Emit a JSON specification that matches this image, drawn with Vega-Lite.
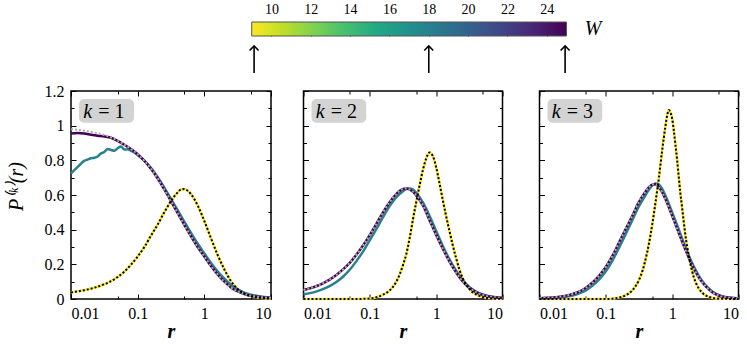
{
  "$schema": "https://vega.github.io/schema/vega-lite/v6.json",
  "background": "white",
  "padding": {"left": 5, "top": 2, "right": 0, "bottom": 0},
  "autosize": {"type": "pad"},
  "config": {
    "font": "Liberation Serif",
    "view": {"stroke": "black", "strokeWidth": 1.5},
    "axis": {"labelFont": "Liberation Serif", "labelFontSize": 16, "labelColor": "black", "titleFont": "Liberation Serif", "titleColor": "black", "titleFontWeight": "normal", "tickColor": "black", "tickWidth": 1, "domain": false, "grid": false},
    "text": {"font": "Liberation Serif", "color": "black"}
  },
  "datasets": {
    "curves": [
      {"k":1,"W":9,"r":0.01,"P":0.038},{"k":1,"W":9,"r":0.0126,"P":0.044},{"k":1,"W":9,"r":0.0158,"P":0.051},{"k":1,"W":9,"r":0.02,"P":0.06},{"k":1,"W":9,"r":0.0251,"P":0.071},{"k":1,"W":9,"r":0.0316,"P":0.085},{"k":1,"W":9,"r":0.0398,"P":0.103},{"k":1,"W":9,"r":0.0501,"P":0.127},{"k":1,"W":9,"r":0.0631,"P":0.158},{"k":1,"W":9,"r":0.0794,"P":0.198},{"k":1,"W":9,"r":0.1,"P":0.245},{"k":1,"W":9,"r":0.126,"P":0.3},{"k":1,"W":9,"r":0.158,"P":0.365},{"k":1,"W":9,"r":0.2,"P":0.43},{"k":1,"W":9,"r":0.251,"P":0.5},{"k":1,"W":9,"r":0.316,"P":0.565},{"k":1,"W":9,"r":0.398,"P":0.615},{"k":1,"W":9,"r":0.447,"P":0.632},{"k":1,"W":9,"r":0.501,"P":0.634},{"k":1,"W":9,"r":0.562,"P":0.625},{"k":1,"W":9,"r":0.631,"P":0.605},{"k":1,"W":9,"r":0.794,"P":0.54},{"k":1,"W":9,"r":1,"P":0.45},{"k":1,"W":9,"r":1.26,"P":0.35},{"k":1,"W":9,"r":1.58,"P":0.255},{"k":1,"W":9,"r":2,"P":0.17},{"k":1,"W":9,"r":2.51,"P":0.103},{"k":1,"W":9,"r":3.16,"P":0.058},{"k":1,"W":9,"r":3.98,"P":0.031},{"k":1,"W":9,"r":5.01,"P":0.016},{"k":1,"W":9,"r":6.31,"P":0.008},{"k":1,"W":9,"r":7.94,"P":0.004},{"k":1,"W":9,"r":10,"P":0.002},
      {"k":1,"W":18,"r":0.01,"P":0.725},{"k":1,"W":18,"r":0.0126,"P":0.762},{"k":1,"W":18,"r":0.0158,"P":0.797},{"k":1,"W":18,"r":0.0178,"P":0.805},{"k":1,"W":18,"r":0.02,"P":0.812},{"k":1,"W":18,"r":0.0224,"P":0.815},{"k":1,"W":18,"r":0.0251,"P":0.822},{"k":1,"W":18,"r":0.0282,"P":0.84},{"k":1,"W":18,"r":0.0316,"P":0.848},{"k":1,"W":18,"r":0.0355,"P":0.866},{"k":1,"W":18,"r":0.0398,"P":0.86},{"k":1,"W":18,"r":0.0447,"P":0.855},{"k":1,"W":18,"r":0.0501,"P":0.87},{"k":1,"W":18,"r":0.0562,"P":0.88},{"k":1,"W":18,"r":0.0631,"P":0.862},{"k":1,"W":18,"r":0.0708,"P":0.864},{"k":1,"W":18,"r":0.0794,"P":0.855},{"k":1,"W":18,"r":0.0891,"P":0.845},{"k":1,"W":18,"r":0.1,"P":0.83},{"k":1,"W":18,"r":0.126,"P":0.798},{"k":1,"W":18,"r":0.158,"P":0.757},{"k":1,"W":18,"r":0.2,"P":0.703},{"k":1,"W":18,"r":0.251,"P":0.643},{"k":1,"W":18,"r":0.316,"P":0.578},{"k":1,"W":18,"r":0.398,"P":0.512},{"k":1,"W":18,"r":0.501,"P":0.447},{"k":1,"W":18,"r":0.631,"P":0.382},{"k":1,"W":18,"r":0.794,"P":0.32},{"k":1,"W":18,"r":1,"P":0.263},{"k":1,"W":18,"r":1.26,"P":0.208},{"k":1,"W":18,"r":1.58,"P":0.16},{"k":1,"W":18,"r":2,"P":0.117},{"k":1,"W":18,"r":2.51,"P":0.082},{"k":1,"W":18,"r":3.16,"P":0.056},{"k":1,"W":18,"r":3.98,"P":0.037},{"k":1,"W":18,"r":5.01,"P":0.025},{"k":1,"W":18,"r":6.31,"P":0.017},{"k":1,"W":18,"r":7.94,"P":0.012},{"k":1,"W":18,"r":10,"P":0.009},
      {"k":1,"W":25,"r":0.01,"P":0.955},{"k":1,"W":25,"r":0.0126,"P":0.958},{"k":1,"W":25,"r":0.0158,"P":0.955},{"k":1,"W":25,"r":0.02,"P":0.948},{"k":1,"W":25,"r":0.0251,"P":0.942},{"k":1,"W":25,"r":0.0316,"P":0.937},{"k":1,"W":25,"r":0.0398,"P":0.93},{"k":1,"W":25,"r":0.0501,"P":0.912},{"k":1,"W":25,"r":0.0631,"P":0.89},{"k":1,"W":25,"r":0.0794,"P":0.865},{"k":1,"W":25,"r":0.1,"P":0.835},{"k":1,"W":25,"r":0.126,"P":0.797},{"k":1,"W":25,"r":0.158,"P":0.752},{"k":1,"W":25,"r":0.2,"P":0.695},{"k":1,"W":25,"r":0.251,"P":0.632},{"k":1,"W":25,"r":0.316,"P":0.565},{"k":1,"W":25,"r":0.398,"P":0.495},{"k":1,"W":25,"r":0.501,"P":0.428},{"k":1,"W":25,"r":0.631,"P":0.362},{"k":1,"W":25,"r":0.794,"P":0.3},{"k":1,"W":25,"r":1,"P":0.245},{"k":1,"W":25,"r":1.26,"P":0.19},{"k":1,"W":25,"r":1.58,"P":0.142},{"k":1,"W":25,"r":2,"P":0.1},{"k":1,"W":25,"r":2.51,"P":0.067},{"k":1,"W":25,"r":3.16,"P":0.044},{"k":1,"W":25,"r":3.98,"P":0.029},{"k":1,"W":25,"r":5.01,"P":0.019},{"k":1,"W":25,"r":6.31,"P":0.013},{"k":1,"W":25,"r":7.94,"P":0.009},{"k":1,"W":25,"r":10,"P":0.006},
      {"k":2,"W":9,"r":0.01,"P":0},{"k":2,"W":9,"r":0.02,"P":0},{"k":2,"W":9,"r":0.0398,"P":0},{"k":2,"W":9,"r":0.0631,"P":0},{"k":2,"W":9,"r":0.0794,"P":0.001},{"k":2,"W":9,"r":0.1,"P":0.003},{"k":2,"W":9,"r":0.126,"P":0.01},{"k":2,"W":9,"r":0.158,"P":0.025},{"k":2,"W":9,"r":0.2,"P":0.05},{"k":2,"W":9,"r":0.251,"P":0.1},{"k":2,"W":9,"r":0.316,"P":0.195},{"k":2,"W":9,"r":0.355,"P":0.26},{"k":2,"W":9,"r":0.398,"P":0.35},{"k":2,"W":9,"r":0.447,"P":0.46},{"k":2,"W":9,"r":0.501,"P":0.56},{"k":2,"W":9,"r":0.562,"P":0.655},{"k":2,"W":9,"r":0.631,"P":0.745},{"k":2,"W":9,"r":0.708,"P":0.81},{"k":2,"W":9,"r":0.794,"P":0.845},{"k":2,"W":9,"r":0.891,"P":0.825},{"k":2,"W":9,"r":1,"P":0.76},{"k":2,"W":9,"r":1.12,"P":0.67},{"k":2,"W":9,"r":1.26,"P":0.57},{"k":2,"W":9,"r":1.41,"P":0.48},{"k":2,"W":9,"r":1.58,"P":0.395},{"k":2,"W":9,"r":1.78,"P":0.31},{"k":2,"W":9,"r":2,"P":0.235},{"k":2,"W":9,"r":2.24,"P":0.17},{"k":2,"W":9,"r":2.51,"P":0.12},{"k":2,"W":9,"r":3.16,"P":0.058},{"k":2,"W":9,"r":3.98,"P":0.027},{"k":2,"W":9,"r":5.01,"P":0.012},{"k":2,"W":9,"r":6.31,"P":0.005},{"k":2,"W":9,"r":7.94,"P":0.002},{"k":2,"W":9,"r":10,"P":0.001},
      {"k":2,"W":18,"r":0.01,"P":0.027},{"k":2,"W":18,"r":0.0126,"P":0.034},{"k":2,"W":18,"r":0.0158,"P":0.044},{"k":2,"W":18,"r":0.02,"P":0.058},{"k":2,"W":18,"r":0.0251,"P":0.076},{"k":2,"W":18,"r":0.0316,"P":0.1},{"k":2,"W":18,"r":0.0398,"P":0.13},{"k":2,"W":18,"r":0.0501,"P":0.17},{"k":2,"W":18,"r":0.0631,"P":0.22},{"k":2,"W":18,"r":0.0794,"P":0.275},{"k":2,"W":18,"r":0.1,"P":0.34},{"k":2,"W":18,"r":0.126,"P":0.405},{"k":2,"W":18,"r":0.158,"P":0.472},{"k":2,"W":18,"r":0.2,"P":0.537},{"k":2,"W":18,"r":0.251,"P":0.587},{"k":2,"W":18,"r":0.316,"P":0.622},{"k":2,"W":18,"r":0.355,"P":0.635},{"k":2,"W":18,"r":0.398,"P":0.638},{"k":2,"W":18,"r":0.447,"P":0.631},{"k":2,"W":18,"r":0.501,"P":0.612},{"k":2,"W":18,"r":0.631,"P":0.557},{"k":2,"W":18,"r":0.794,"P":0.48},{"k":2,"W":18,"r":1,"P":0.392},{"k":2,"W":18,"r":1.26,"P":0.306},{"k":2,"W":18,"r":1.58,"P":0.23},{"k":2,"W":18,"r":2,"P":0.163},{"k":2,"W":18,"r":2.51,"P":0.109},{"k":2,"W":18,"r":3.16,"P":0.07},{"k":2,"W":18,"r":3.98,"P":0.043},{"k":2,"W":18,"r":5.01,"P":0.026},{"k":2,"W":18,"r":6.31,"P":0.016},{"k":2,"W":18,"r":7.94,"P":0.01},{"k":2,"W":18,"r":10,"P":0.007},
      {"k":2,"W":25,"r":0.01,"P":0.052},{"k":2,"W":25,"r":0.0126,"P":0.062},{"k":2,"W":25,"r":0.0158,"P":0.075},{"k":2,"W":25,"r":0.02,"P":0.092},{"k":2,"W":25,"r":0.0251,"P":0.113},{"k":2,"W":25,"r":0.0316,"P":0.14},{"k":2,"W":25,"r":0.0398,"P":0.172},{"k":2,"W":25,"r":0.0501,"P":0.21},{"k":2,"W":25,"r":0.0631,"P":0.257},{"k":2,"W":25,"r":0.0794,"P":0.31},{"k":2,"W":25,"r":0.1,"P":0.37},{"k":2,"W":25,"r":0.126,"P":0.435},{"k":2,"W":25,"r":0.158,"P":0.5},{"k":2,"W":25,"r":0.2,"P":0.56},{"k":2,"W":25,"r":0.251,"P":0.607},{"k":2,"W":25,"r":0.316,"P":0.635},{"k":2,"W":25,"r":0.355,"P":0.638},{"k":2,"W":25,"r":0.398,"P":0.632},{"k":2,"W":25,"r":0.501,"P":0.598},{"k":2,"W":25,"r":0.631,"P":0.54},{"k":2,"W":25,"r":0.794,"P":0.455},{"k":2,"W":25,"r":1,"P":0.37},{"k":2,"W":25,"r":1.26,"P":0.29},{"k":2,"W":25,"r":1.58,"P":0.217},{"k":2,"W":25,"r":2,"P":0.153},{"k":2,"W":25,"r":2.51,"P":0.102},{"k":2,"W":25,"r":3.16,"P":0.065},{"k":2,"W":25,"r":3.98,"P":0.04},{"k":2,"W":25,"r":5.01,"P":0.024},{"k":2,"W":25,"r":6.31,"P":0.014},{"k":2,"W":25,"r":7.94,"P":0.009},{"k":2,"W":25,"r":10,"P":0.006},
      {"k":3,"W":9,"r":0.01,"P":0},{"k":3,"W":9,"r":0.0316,"P":0},{"k":3,"W":9,"r":0.1,"P":0},{"k":3,"W":9,"r":0.126,"P":0.002},{"k":3,"W":9,"r":0.158,"P":0.008},{"k":3,"W":9,"r":0.2,"P":0.022},{"k":3,"W":9,"r":0.251,"P":0.05},{"k":3,"W":9,"r":0.282,"P":0.075},{"k":3,"W":9,"r":0.316,"P":0.11},{"k":3,"W":9,"r":0.355,"P":0.16},{"k":3,"W":9,"r":0.398,"P":0.23},{"k":3,"W":9,"r":0.447,"P":0.32},{"k":3,"W":9,"r":0.501,"P":0.43},{"k":3,"W":9,"r":0.562,"P":0.56},{"k":3,"W":9,"r":0.631,"P":0.7},{"k":3,"W":9,"r":0.708,"P":0.86},{"k":3,"W":9,"r":0.794,"P":1.0},{"k":3,"W":9,"r":0.841,"P":1.06},{"k":3,"W":9,"r":0.891,"P":1.09},{"k":3,"W":9,"r":0.944,"P":1.075},{"k":3,"W":9,"r":1,"P":1.04},{"k":3,"W":9,"r":1.06,"P":0.97},{"k":3,"W":9,"r":1.12,"P":0.89},{"k":3,"W":9,"r":1.19,"P":0.8},{"k":3,"W":9,"r":1.26,"P":0.7},{"k":3,"W":9,"r":1.33,"P":0.61},{"k":3,"W":9,"r":1.41,"P":0.53},{"k":3,"W":9,"r":1.5,"P":0.44},{"k":3,"W":9,"r":1.58,"P":0.37},{"k":3,"W":9,"r":1.78,"P":0.25},{"k":3,"W":9,"r":2,"P":0.16},{"k":3,"W":9,"r":2.24,"P":0.1},{"k":3,"W":9,"r":2.51,"P":0.062},{"k":3,"W":9,"r":2.82,"P":0.037},{"k":3,"W":9,"r":3.16,"P":0.022},{"k":3,"W":9,"r":3.98,"P":0.007},{"k":3,"W":9,"r":5.01,"P":0.002},{"k":3,"W":9,"r":6.31,"P":0.001},{"k":3,"W":9,"r":10,"P":0},
      {"k":3,"W":18,"r":0.01,"P":0.003},{"k":3,"W":18,"r":0.0126,"P":0.004},{"k":3,"W":18,"r":0.0158,"P":0.006},{"k":3,"W":18,"r":0.02,"P":0.009},{"k":3,"W":18,"r":0.0251,"P":0.013},{"k":3,"W":18,"r":0.0316,"P":0.02},{"k":3,"W":18,"r":0.0398,"P":0.032},{"k":3,"W":18,"r":0.0501,"P":0.05},{"k":3,"W":18,"r":0.0631,"P":0.077},{"k":3,"W":18,"r":0.0794,"P":0.113},{"k":3,"W":18,"r":0.1,"P":0.16},{"k":3,"W":18,"r":0.126,"P":0.222},{"k":3,"W":18,"r":0.158,"P":0.295},{"k":3,"W":18,"r":0.2,"P":0.375},{"k":3,"W":18,"r":0.251,"P":0.455},{"k":3,"W":18,"r":0.316,"P":0.535},{"k":3,"W":18,"r":0.398,"P":0.6},{"k":3,"W":18,"r":0.447,"P":0.632},{"k":3,"W":18,"r":0.501,"P":0.655},{"k":3,"W":18,"r":0.562,"P":0.667},{"k":3,"W":18,"r":0.631,"P":0.66},{"k":3,"W":18,"r":0.708,"P":0.635},{"k":3,"W":18,"r":0.794,"P":0.595},{"k":3,"W":18,"r":1,"P":0.5},{"k":3,"W":18,"r":1.26,"P":0.4},{"k":3,"W":18,"r":1.58,"P":0.3},{"k":3,"W":18,"r":2,"P":0.207},{"k":3,"W":18,"r":2.51,"P":0.135},{"k":3,"W":18,"r":3.16,"P":0.082},{"k":3,"W":18,"r":3.98,"P":0.045},{"k":3,"W":18,"r":5.01,"P":0.023},{"k":3,"W":18,"r":6.31,"P":0.012},{"k":3,"W":18,"r":7.94,"P":0.007},{"k":3,"W":18,"r":10,"P":0.005},
      {"k":3,"W":25,"r":0.01,"P":0.005},{"k":3,"W":25,"r":0.0126,"P":0.007},{"k":3,"W":25,"r":0.0158,"P":0.009},{"k":3,"W":25,"r":0.02,"P":0.013},{"k":3,"W":25,"r":0.0251,"P":0.019},{"k":3,"W":25,"r":0.0316,"P":0.029},{"k":3,"W":25,"r":0.0398,"P":0.043},{"k":3,"W":25,"r":0.0501,"P":0.065},{"k":3,"W":25,"r":0.0631,"P":0.095},{"k":3,"W":25,"r":0.0794,"P":0.135},{"k":3,"W":25,"r":0.1,"P":0.185},{"k":3,"W":25,"r":0.126,"P":0.25},{"k":3,"W":25,"r":0.158,"P":0.325},{"k":3,"W":25,"r":0.2,"P":0.405},{"k":3,"W":25,"r":0.251,"P":0.48},{"k":3,"W":25,"r":0.316,"P":0.56},{"k":3,"W":25,"r":0.398,"P":0.62},{"k":3,"W":25,"r":0.447,"P":0.645},{"k":3,"W":25,"r":0.501,"P":0.66},{"k":3,"W":25,"r":0.562,"P":0.662},{"k":3,"W":25,"r":0.631,"P":0.645},{"k":3,"W":25,"r":0.708,"P":0.615},{"k":3,"W":25,"r":0.794,"P":0.575},{"k":3,"W":25,"r":1,"P":0.48},{"k":3,"W":25,"r":1.26,"P":0.38},{"k":3,"W":25,"r":1.58,"P":0.285},{"k":3,"W":25,"r":2,"P":0.195},{"k":3,"W":25,"r":2.51,"P":0.125},{"k":3,"W":25,"r":3.16,"P":0.075},{"k":3,"W":25,"r":3.98,"P":0.04},{"k":3,"W":25,"r":5.01,"P":0.02},{"k":3,"W":25,"r":6.31,"P":0.01},{"k":3,"W":25,"r":7.94,"P":0.006},{"k":3,"W":25,"r":10,"P":0.004}
    ],
    "grayfit": [
      {"k":1,"r":0.01,"P":0.98},{"k":1,"r":0.0126,"P":0.976},{"k":1,"r":0.0158,"P":0.971},{"k":1,"r":0.02,"P":0.964},{"k":1,"r":0.0251,"P":0.956},{"k":1,"r":0.0316,"P":0.946},{"k":1,"r":0.0398,"P":0.932},{"k":1,"r":0.0501,"P":0.914},{"k":1,"r":0.0631,"P":0.891},{"k":1,"r":0.0794,"P":0.865},{"k":1,"r":0.1,"P":0.835},{"k":1,"r":0.126,"P":0.797},{"k":1,"r":0.158,"P":0.752},{"k":1,"r":0.2,"P":0.695},{"k":1,"r":0.251,"P":0.632},{"k":1,"r":0.316,"P":0.565},{"k":1,"r":0.398,"P":0.495},{"k":1,"r":0.501,"P":0.428},{"k":1,"r":0.631,"P":0.362},{"k":1,"r":0.794,"P":0.3},{"k":1,"r":1,"P":0.245},{"k":1,"r":1.26,"P":0.19},{"k":1,"r":1.58,"P":0.142},{"k":1,"r":2,"P":0.1},{"k":1,"r":2.51,"P":0.067},{"k":1,"r":3.16,"P":0.044},{"k":1,"r":3.98,"P":0.029},{"k":1,"r":5.01,"P":0.019},{"k":1,"r":6.31,"P":0.013},{"k":1,"r":7.94,"P":0.009},{"k":1,"r":10,"P":0.006},
      {"k":2,"r":0.01,"P":0.052},{"k":2,"r":0.0126,"P":0.062},{"k":2,"r":0.0158,"P":0.075},{"k":2,"r":0.02,"P":0.092},{"k":2,"r":0.0251,"P":0.113},{"k":2,"r":0.0316,"P":0.14},{"k":2,"r":0.0398,"P":0.172},{"k":2,"r":0.0501,"P":0.21},{"k":2,"r":0.0631,"P":0.257},{"k":2,"r":0.0794,"P":0.31},{"k":2,"r":0.1,"P":0.37},{"k":2,"r":0.126,"P":0.435},{"k":2,"r":0.158,"P":0.5},{"k":2,"r":0.2,"P":0.56},{"k":2,"r":0.251,"P":0.607},{"k":2,"r":0.316,"P":0.635},{"k":2,"r":0.355,"P":0.638},{"k":2,"r":0.398,"P":0.632},{"k":2,"r":0.501,"P":0.598},{"k":2,"r":0.631,"P":0.54},{"k":2,"r":0.794,"P":0.455},{"k":2,"r":1,"P":0.37},{"k":2,"r":1.26,"P":0.29},{"k":2,"r":1.58,"P":0.217},{"k":2,"r":2,"P":0.153},{"k":2,"r":2.51,"P":0.102},{"k":2,"r":3.16,"P":0.065},{"k":2,"r":3.98,"P":0.04},{"k":2,"r":5.01,"P":0.024},{"k":2,"r":6.31,"P":0.014},{"k":2,"r":7.94,"P":0.009},{"k":2,"r":10,"P":0.006},
      {"k":3,"r":0.01,"P":0.005},{"k":3,"r":0.0126,"P":0.007},{"k":3,"r":0.0158,"P":0.009},{"k":3,"r":0.02,"P":0.013},{"k":3,"r":0.0251,"P":0.019},{"k":3,"r":0.0316,"P":0.029},{"k":3,"r":0.0398,"P":0.043},{"k":3,"r":0.0501,"P":0.065},{"k":3,"r":0.0631,"P":0.095},{"k":3,"r":0.0794,"P":0.135},{"k":3,"r":0.1,"P":0.185},{"k":3,"r":0.126,"P":0.25},{"k":3,"r":0.158,"P":0.325},{"k":3,"r":0.2,"P":0.405},{"k":3,"r":0.251,"P":0.48},{"k":3,"r":0.316,"P":0.56},{"k":3,"r":0.398,"P":0.62},{"k":3,"r":0.447,"P":0.645},{"k":3,"r":0.501,"P":0.66},{"k":3,"r":0.562,"P":0.662},{"k":3,"r":0.631,"P":0.645},{"k":3,"r":0.708,"P":0.615},{"k":3,"r":0.794,"P":0.575},{"k":3,"r":1,"P":0.48},{"k":3,"r":1.26,"P":0.38},{"k":3,"r":1.58,"P":0.285},{"k":3,"r":2,"P":0.195},{"k":3,"r":2.51,"P":0.125},{"k":3,"r":3.16,"P":0.075},{"k":3,"r":3.98,"P":0.04},{"k":3,"r":5.01,"P":0.02},{"k":3,"r":6.31,"P":0.01},{"k":3,"r":7.94,"P":0.006},{"k":3,"r":10,"P":0.004}
    ],
    "arrows": [{"W": 9.12}, {"W": 18}, {"W": 24.93}]
  },
  "bounds": "flush",
  "spacing": 10,
  "vconcat": [
    {
      "width": 668, "height": 14,
      "view": {"stroke": null},
      "resolve": {"axis": {"x": "independent"}},
      "layer": [
        {
          "data": {"values": [{}]},
          "mark": {"type": "rect", "stroke": "#555555", "strokeWidth": 1, "fill": {"gradient": "linear", "x1": 0, "y1": 0, "x2": 1, "y2": 0, "stops": [{"offset": 0, "color": "#fde725"}, {"offset": 0.1, "color": "#bddf26"}, {"offset": 0.2, "color": "#7ad151"}, {"offset": 0.3, "color": "#44bf70"}, {"offset": 0.4, "color": "#22a884"}, {"offset": 0.5, "color": "#21918c"}, {"offset": 0.6, "color": "#2a788e"}, {"offset": 0.7, "color": "#355f8d"}, {"offset": 0.8, "color": "#414487"}, {"offset": 0.9, "color": "#482475"}, {"offset": 1, "color": "#440154"}]}},
          "encoding": {
            "x": {"datum": 9, "type": "quantitative", "scale": {"domain": [-0.187, 33.77], "nice": false, "zero": false}, "axis": {"orient": "top", "values": [10, 12, 14, 16, 18, 20, 22, 24], "tickSize": -4, "tickColor": "#333333", "labelPadding": 10, "labelFontSize": 14, "title": null}},
            "x2": {"datum": 25},
            "y": {"datum": 0, "type": "quantitative", "scale": {"domain": [0, 1], "nice": false}, "axis": null},
            "y2": {"datum": 1}
          }
        },
        {
          "data": {"values": [{}]},
          "mark": {"type": "text", "text": "W", "fontStyle": "italic", "fontSize": 20, "align": "center", "baseline": "middle"},
          "encoding": {
            "x": {"datum": 26.35, "type": "quantitative", "axis": {"orient": "bottom", "values": [10, 12, 14, 16, 18, 20, 22, 24], "tickSize": -4, "tickColor": "#333333", "labels": false, "title": null}},
            "y": {"datum": 0.5, "type": "quantitative", "axis": null}
          }
        }
      ]
    },
    {
      "width": 668, "height": 35,
      "view": {"stroke": null},
      "data": {"name": "arrows"},
      "layer": [
        {
          "mark": {"type": "rule", "strokeWidth": 1.6, "color": "black"},
          "encoding": {
            "x": {"field": "W", "type": "quantitative", "scale": {"domain": [-0.187, 33.77], "nice": false, "zero": false}, "axis": null},
            "y": {"datum": 0.2286, "type": "quantitative", "scale": {"domain": [0, 1], "nice": false}, "axis": null},
            "y2": {"datum": 1}
          }
        },
        {
          "mark": {"type": "point", "shape": "M-1,1L0,0L1,1", "filled": false, "size": 81, "strokeWidth": 1.6, "color": "black", "opacity": 1},
          "encoding": {
            "x": {"field": "W", "type": "quantitative"},
            "y": {"datum": 1, "type": "quantitative"}
          }
        }
      ]
    },
    {
      "bounds": "flush",
      "spacing": 32.5,
      "hconcat": [
        {
          "width": 200, "height": 208,
          "resolve": {"axis": {"x": "independent", "y": "independent"}},
          "layer": [
            {
              "data": {"name": "curves"},
              "transform": [{"filter": "datum.k == 1"}],
              "mark": {"type": "line", "strokeWidth": 2.5, "interpolate": "monotone"},
              "encoding": {
                "x": {"field": "r", "type": "quantitative", "scale": {"type": "log", "domain": [0.01, 10], "nice": false}, "axis": {"orient": "bottom", "values": [0.01, 0.1, 1, 10], "format": "~g", "tickSize": -5, "labelPadding": 11, "title": "r", "titleFontStyle": "italic", "titleFontWeight": "bold", "titleFontSize": 20, "titlePadding": 0}},
                "y": {"field": "P", "type": "quantitative", "scale": {"domain": [0, 1.2], "nice": false}, "axis": {"orient": "left", "values": [0, 0.2, 0.4, 0.6, 0.8, 1, 1.2], "format": "~g", "tickSize": -5, "labelPadding": 12, "title": "P⁽ᵏ⁾(r)", "titleFontStyle": "italic", "titleFontSize": 20, "titlePadding": 18, "titleY": 95}},
                "color": {"field": "W", "type": "quantitative", "scale": {"scheme": "viridis", "reverse": true, "domain": [9, 25]}, "legend": null},
                "detail": {"field": "W", "type": "nominal"}
              }
            },
            {
              "data": {"name": "grayfit"},
              "transform": [{"filter": "datum.k == 1"}],
              "mark": {"type": "line", "strokeWidth": 2, "strokeDash": [2, 2], "color": "#aaaaaa", "interpolate": "monotone"},
              "encoding": {
                "x": {"field": "r", "type": "quantitative", "axis": {"orient": "top", "values": [0.01, 0.1, 1, 10], "tickSize": -5, "labels": false, "title": null}},
                "y": {"field": "P", "type": "quantitative", "axis": {"orient": "right", "values": [0, 0.2, 0.4, 0.6, 0.8, 1, 1.2], "tickSize": -5, "labels": false, "title": null}}
              }
            },
            {
              "data": {"name": "curves"},
              "transform": [{"filter": "datum.k == 1 && datum.W == 9"}],
              "mark": {"type": "line", "strokeWidth": 2, "strokeDash": [2, 2], "color": "black", "interpolate": "monotone"},
              "encoding": {
                "x": {"field": "r", "type": "quantitative", "axis": {"orient": "bottom", "values": [0.05, 0.5, 5], "tickSize": -3, "labels": false, "title": null}},
                "y": {"field": "P", "type": "quantitative", "axis": {"orient": "left", "values": [0.1, 0.3, 0.5, 0.7, 0.9, 1.1], "tickSize": -3, "labels": false, "title": null}}
              }
            },
            {
              "data": {"values": [{}]},
              "mark": {"type": "rect", "fill": "#d3d3d3", "cornerRadius": 5},
              "encoding": {
                "x": {"datum": 0.0132, "type": "quantitative", "axis": {"orient": "top", "values": [0.05, 0.5, 5], "tickSize": -3, "labels": false, "title": null}},
                "x2": {"datum": 0.0881},
                "y": {"datum": 1.154, "type": "quantitative", "axis": {"orient": "right", "values": [0.1, 0.3, 0.5, 0.7, 0.9, 1.1], "tickSize": -3, "labels": false, "title": null}},
                "y2": {"datum": 1.017}
              }
            },
            {
              "data": {"values": [{}]},
              "mark": {"type": "text", "text": "k", "fontStyle": "italic", "fontSize": 20, "align": "center", "baseline": "alphabetic"},
              "encoding": {
                "x": {"datum": 0.0178, "type": "quantitative", "axis": null},
                "y": {"datum": 1.043, "type": "quantitative", "axis": null}
              }
            },
            {
              "data": {"values": [{}]},
              "mark": {"type": "text", "text": "= 1", "fontSize": 20, "align": "left", "baseline": "alphabetic"},
              "encoding": {
                "x": {"datum": 0.0257, "type": "quantitative", "axis": null},
                "y": {"datum": 1.043, "type": "quantitative", "axis": null}
              }
            }
          ]
        },
        {
          "bounds": "flush",
          "spacing": 37,
          "hconcat": [
            {
              "width": 199, "height": 208,
              "resolve": {"axis": {"x": "independent", "y": "independent"}},
              "layer": [
                {
                  "data": {"name": "curves"},
                  "transform": [{"filter": "datum.k == 2"}],
                  "mark": {"type": "line", "strokeWidth": 2.5, "interpolate": "monotone"},
                  "encoding": {
                    "x": {"field": "r", "type": "quantitative", "scale": {"type": "log", "domain": [0.01, 10], "nice": false}, "axis": {"orient": "bottom", "values": [0.01, 0.1, 1, 10], "format": "~g", "tickSize": -5, "labelPadding": 11, "title": "r", "titleFontStyle": "italic", "titleFontWeight": "bold", "titleFontSize": 20, "titlePadding": 0}},
                    "y": {"field": "P", "type": "quantitative", "scale": {"domain": [0, 1.2], "nice": false}, "axis": {"orient": "left", "values": [0, 0.2, 0.4, 0.6, 0.8, 1, 1.2], "tickSize": -5, "labels": false, "title": null}},
                    "color": {"field": "W", "type": "quantitative", "scale": {"scheme": "viridis", "reverse": true, "domain": [9, 25]}, "legend": null},
                    "detail": {"field": "W", "type": "nominal"}
                  }
                },
                {
                  "data": {"name": "grayfit"},
                  "transform": [{"filter": "datum.k == 2"}],
                  "mark": {"type": "line", "strokeWidth": 2, "strokeDash": [2, 2], "color": "#aaaaaa", "interpolate": "monotone"},
                  "encoding": {
                    "x": {"field": "r", "type": "quantitative", "axis": {"orient": "top", "values": [0.01, 0.1, 1, 10], "tickSize": -5, "labels": false, "title": null}},
                    "y": {"field": "P", "type": "quantitative", "axis": {"orient": "right", "values": [0, 0.2, 0.4, 0.6, 0.8, 1, 1.2], "tickSize": -5, "labels": false, "title": null}}
                  }
                },
                {
                  "data": {"name": "curves"},
                  "transform": [{"filter": "datum.k == 2 && datum.W == 9"}],
                  "mark": {"type": "line", "strokeWidth": 2, "strokeDash": [2, 2], "color": "black", "interpolate": "monotone"},
                  "encoding": {
                    "x": {"field": "r", "type": "quantitative", "axis": {"orient": "bottom", "values": [0.05, 0.5, 5], "tickSize": -3, "labels": false, "title": null}},
                    "y": {"field": "P", "type": "quantitative", "axis": {"orient": "left", "values": [0.1, 0.3, 0.5, 0.7, 0.9, 1.1], "tickSize": -3, "labels": false, "title": null}}
                  }
                },
                {
                  "data": {"values": [{}]},
                  "mark": {"type": "rect", "fill": "#d3d3d3", "cornerRadius": 5},
                  "encoding": {
                    "x": {"datum": 0.0132, "type": "quantitative", "axis": {"orient": "top", "values": [0.05, 0.5, 5], "tickSize": -3, "labels": false, "title": null}},
                    "x2": {"datum": 0.0881},
                    "y": {"datum": 1.154, "type": "quantitative", "axis": {"orient": "right", "values": [0.1, 0.3, 0.5, 0.7, 0.9, 1.1], "tickSize": -3, "labels": false, "title": null}},
                    "y2": {"datum": 1.017}
                  }
                },
                {
                  "data": {"values": [{}]},
                  "mark": {"type": "text", "text": "k", "fontStyle": "italic", "fontSize": 20, "align": "center", "baseline": "alphabetic"},
                  "encoding": {
                    "x": {"datum": 0.0178, "type": "quantitative", "axis": null},
                    "y": {"datum": 1.043, "type": "quantitative", "axis": null}
                  }
                },
                {
                  "data": {"values": [{}]},
                  "mark": {"type": "text", "text": "= 2", "fontSize": 20, "align": "left", "baseline": "alphabetic"},
                  "encoding": {
                    "x": {"datum": 0.0257, "type": "quantitative", "axis": null},
                    "y": {"datum": 1.043, "type": "quantitative", "axis": null}
                  }
                }
              ]
            },
            {
              "width": 199, "height": 208,
              "resolve": {"axis": {"x": "independent", "y": "independent"}},
              "layer": [
                {
                  "data": {"name": "curves"},
                  "transform": [{"filter": "datum.k == 3"}],
                  "mark": {"type": "line", "strokeWidth": 2.5, "interpolate": "monotone"},
                  "encoding": {
                    "x": {"field": "r", "type": "quantitative", "scale": {"type": "log", "domain": [0.01, 10], "nice": false}, "axis": {"orient": "bottom", "values": [0.01, 0.1, 1, 10], "format": "~g", "tickSize": -5, "labelPadding": 11, "title": "r", "titleFontStyle": "italic", "titleFontWeight": "bold", "titleFontSize": 20, "titlePadding": 0}},
                    "y": {"field": "P", "type": "quantitative", "scale": {"domain": [0, 1.2], "nice": false}, "axis": {"orient": "left", "values": [0, 0.2, 0.4, 0.6, 0.8, 1, 1.2], "tickSize": -5, "labels": false, "title": null}},
                    "color": {"field": "W", "type": "quantitative", "scale": {"scheme": "viridis", "reverse": true, "domain": [9, 25]}, "legend": null},
                    "detail": {"field": "W", "type": "nominal"}
                  }
                },
                {
                  "data": {"name": "grayfit"},
                  "transform": [{"filter": "datum.k == 3"}],
                  "mark": {"type": "line", "strokeWidth": 2, "strokeDash": [2, 2], "color": "#aaaaaa", "interpolate": "monotone"},
                  "encoding": {
                    "x": {"field": "r", "type": "quantitative", "axis": {"orient": "top", "values": [0.01, 0.1, 1, 10], "tickSize": -5, "labels": false, "title": null}},
                    "y": {"field": "P", "type": "quantitative", "axis": {"orient": "right", "values": [0, 0.2, 0.4, 0.6, 0.8, 1, 1.2], "tickSize": -5, "labels": false, "title": null}}
                  }
                },
                {
                  "data": {"name": "curves"},
                  "transform": [{"filter": "datum.k == 3 && datum.W == 9"}],
                  "mark": {"type": "line", "strokeWidth": 2, "strokeDash": [2, 2], "color": "black", "interpolate": "monotone"},
                  "encoding": {
                    "x": {"field": "r", "type": "quantitative", "axis": {"orient": "bottom", "values": [0.05, 0.5, 5], "tickSize": -3, "labels": false, "title": null}},
                    "y": {"field": "P", "type": "quantitative", "axis": {"orient": "left", "values": [0.1, 0.3, 0.5, 0.7, 0.9, 1.1], "tickSize": -3, "labels": false, "title": null}}
                  }
                },
                {
                  "data": {"values": [{}]},
                  "mark": {"type": "rect", "fill": "#d3d3d3", "cornerRadius": 5},
                  "encoding": {
                    "x": {"datum": 0.0132, "type": "quantitative", "axis": {"orient": "top", "values": [0.05, 0.5, 5], "tickSize": -3, "labels": false, "title": null}},
                    "x2": {"datum": 0.0881},
                    "y": {"datum": 1.154, "type": "quantitative", "axis": {"orient": "right", "values": [0.1, 0.3, 0.5, 0.7, 0.9, 1.1], "tickSize": -3, "labels": false, "title": null}},
                    "y2": {"datum": 1.017}
                  }
                },
                {
                  "data": {"values": [{}]},
                  "mark": {"type": "text", "text": "k", "fontStyle": "italic", "fontSize": 20, "align": "center", "baseline": "alphabetic"},
                  "encoding": {
                    "x": {"datum": 0.0178, "type": "quantitative", "axis": null},
                    "y": {"datum": 1.043, "type": "quantitative", "axis": null}
                  }
                },
                {
                  "data": {"values": [{}]},
                  "mark": {"type": "text", "text": "= 3", "fontSize": 20, "align": "left", "baseline": "alphabetic"},
                  "encoding": {
                    "x": {"datum": 0.0257, "type": "quantitative", "axis": null},
                    "y": {"datum": 1.043, "type": "quantitative", "axis": null}
                  }
                }
              ]
            }
          ]
        }
      ]
    }
  ]
}
